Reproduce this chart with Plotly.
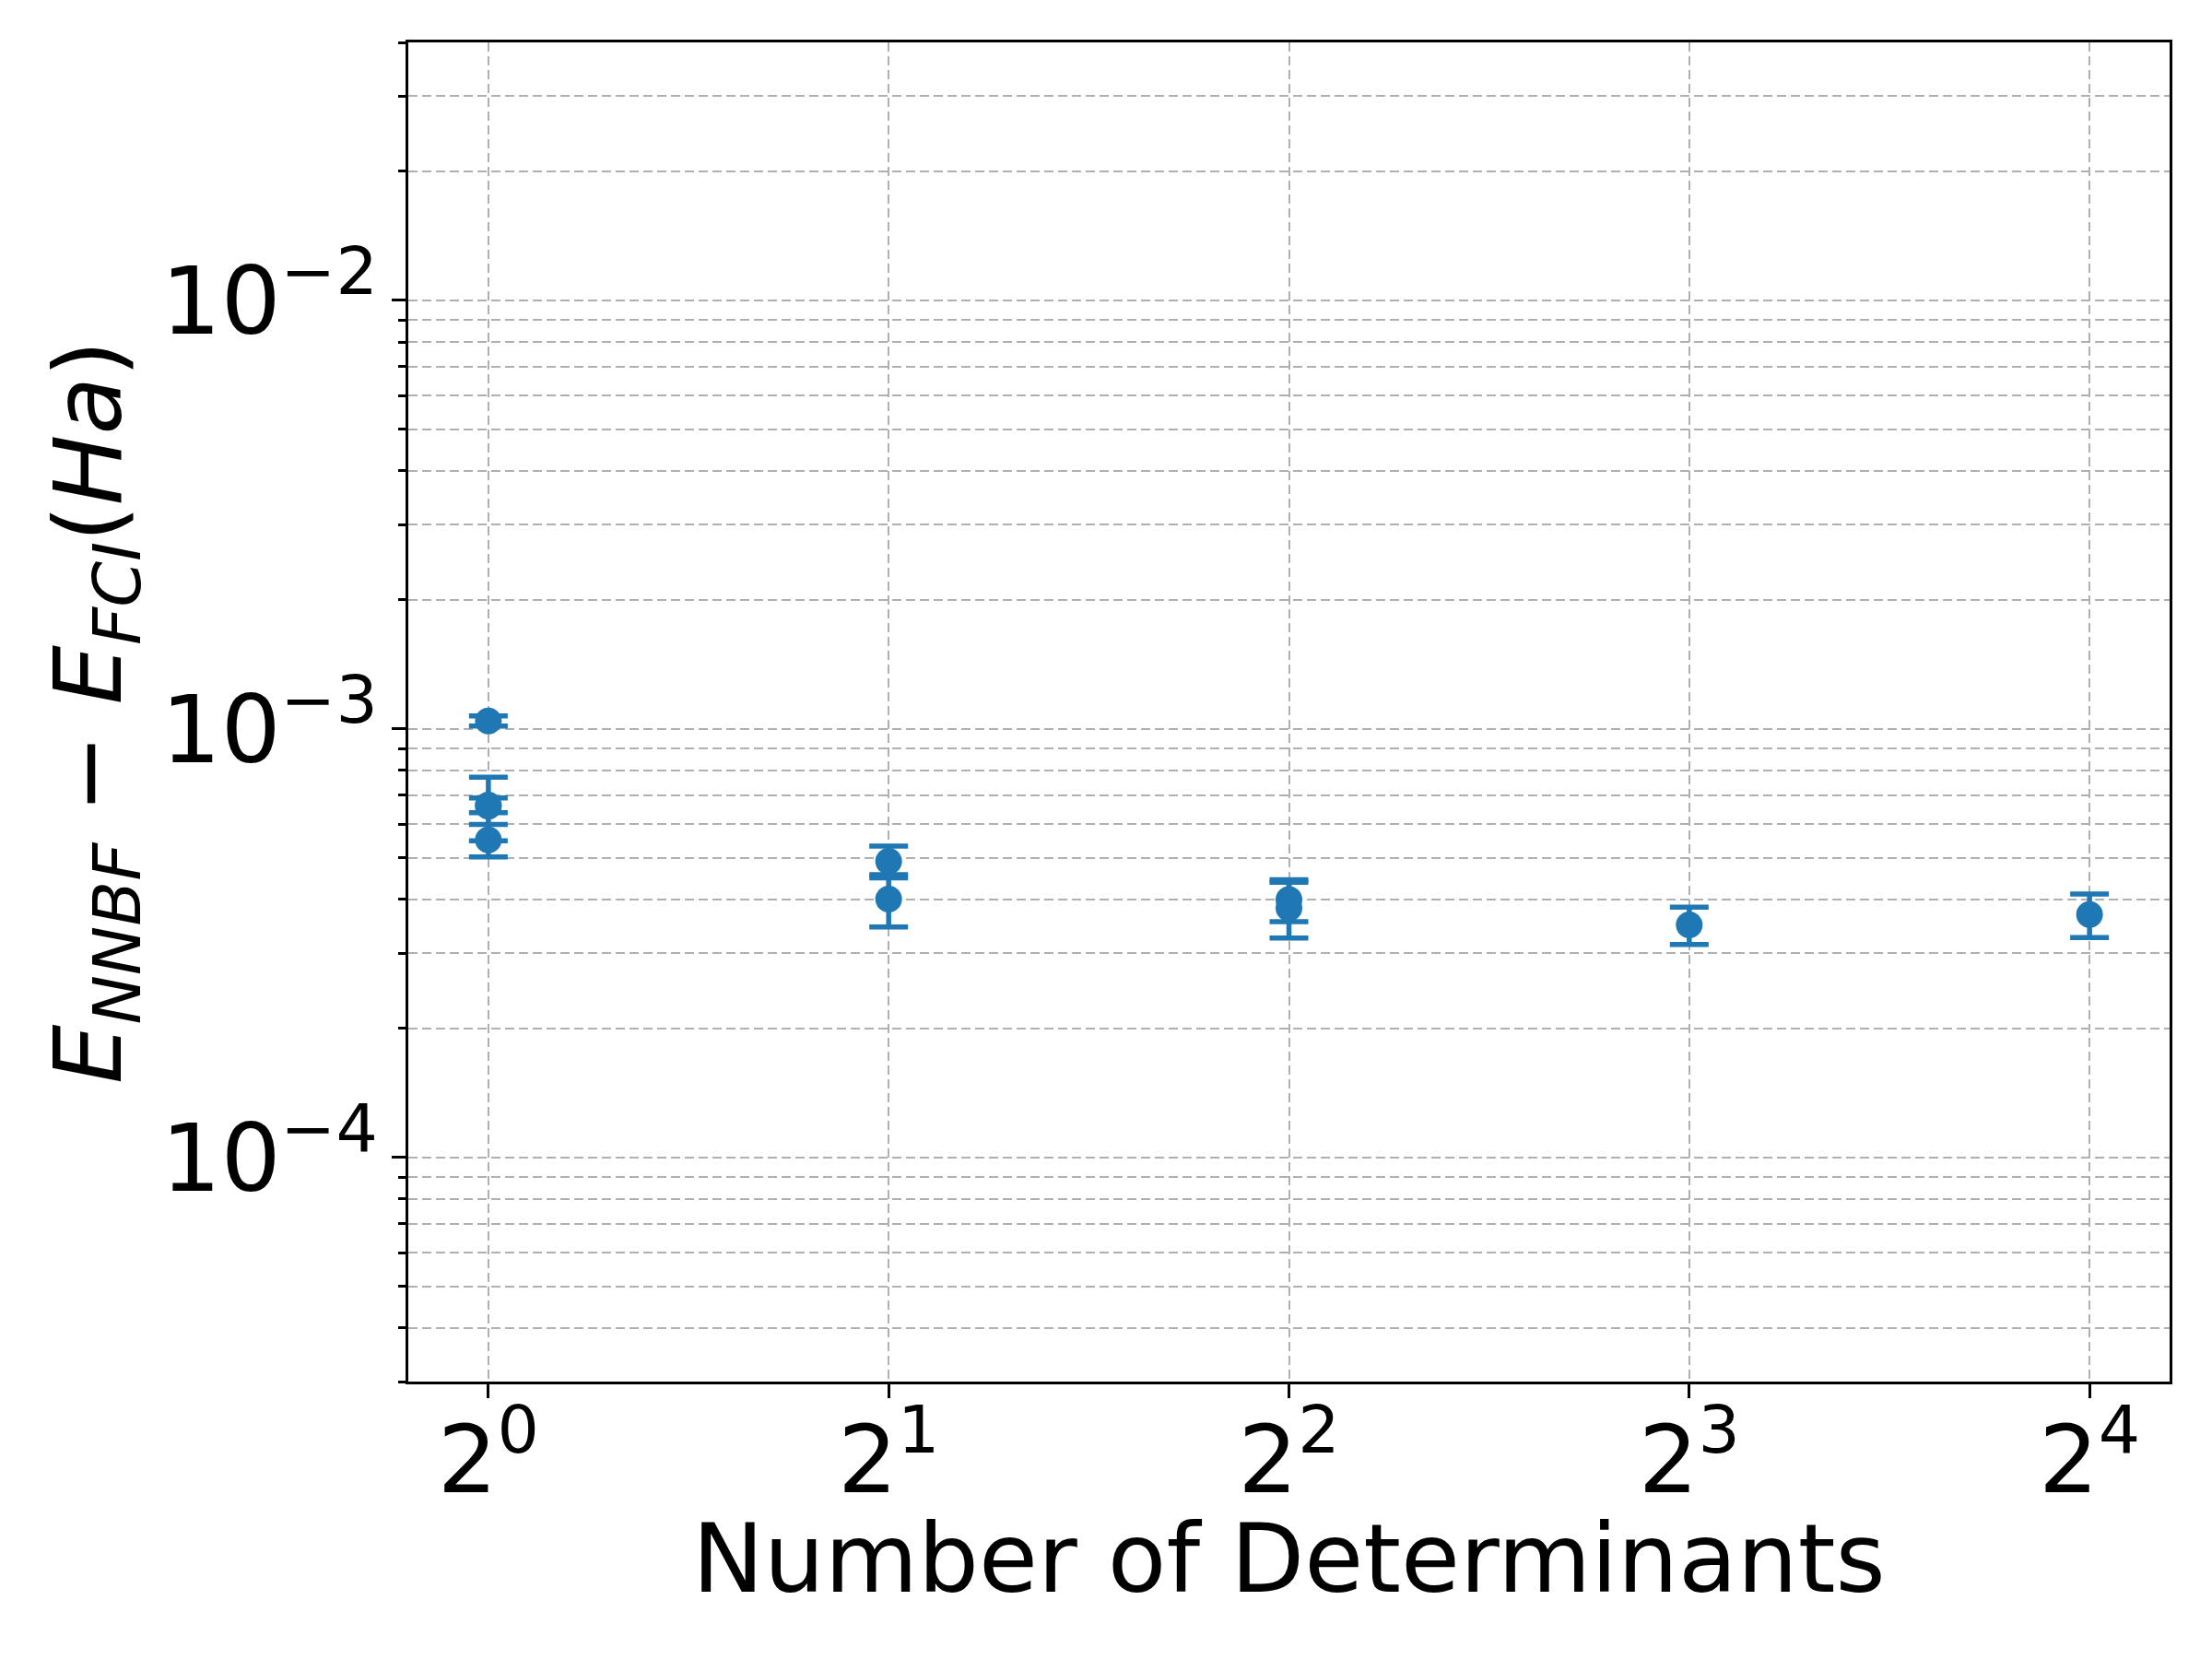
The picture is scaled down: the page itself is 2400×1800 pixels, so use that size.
import math
import plotly.graph_objects as go

# Data
n_determinants = [1, 1, 1, 1, 2, 2, 4, 4, 8, 16]
energy_error = [1.044e-3, 6.60e-4, 6.64e-4, 5.51e-4, 4.91e-4, 4.01e-4, 4.00e-4, 3.82e-4, 3.49e-4, 3.69e-4]
energy_std = [0.028e-3, 1.12e-4, 0.26e-4, 0.48e-4, 0.42e-4, 0.56e-4, 0.45e-4, 0.57e-4, 0.35e-4, 0.43e-4]

x_tickvals = [1, 2, 4, 8, 16]
x_ticktext = ["2<sup>0</sup>", "2<sup>1</sup>", "2<sup>2</sup>", "2<sup>3</sup>", "2<sup>4</sup>"]
y_tickvals = [1e-4, 1e-3, 1e-2]
y_ticktext = ["10<sup>\u22124</sup>", "10<sup>\u22123</sup>", "10<sup>\u22122</sup>"]
y_minor_vals = ([k * 1e-5 for k in range(3, 10)] + [k * 1e-4 for k in range(2, 10)]
                + [k * 1e-3 for k in range(2, 10)] + [2e-2, 3e-2, 4e-2])

x_range_exp = [-0.2, 4.2]   # in powers of 2
y_limits = [3e-5, 4e-2]

BLUE = "#1f77b4"
FONT = "DejaVu Sans"

fig = go.Figure()
fig.add_trace(go.Scatter(
    x=n_determinants, y=energy_error, mode="markers",
    marker=dict(color=BLUE, size=29, line=dict(width=0)),
    error_y=dict(type="data", array=energy_std, symmetric=True,
                 color=BLUE, thickness=5.5, width=21),
    showlegend=False,
))

W, H = 2400, 1800
L, R, T, B = 435, 54, 38, 309

axis_common = dict(
    showline=True, linecolor="black", linewidth=3.3, mirror=True,
    ticks="outside", ticklen=14.6, tickwidth=3.3, tickcolor="black",
    showgrid=True, gridcolor="#b0b0b0", gridwidth=2, griddash="10px,5px",
    zeroline=False,
    tickfont=dict(family=FONT, size=102, color="black"),
)

fig.update_xaxes(
    type="log",
    range=[x_range_exp[0] * math.log10(2), x_range_exp[1] * math.log10(2)],
    tickmode="array", tickvals=x_tickvals, ticktext=x_ticktext,
    ticklabelstandoff=-20,
    **axis_common,
)
fig.update_yaxes(
    type="log",
    range=[math.log10(y_limits[0]), math.log10(y_limits[1])],
    tickmode="array", tickvals=y_tickvals, ticktext=y_ticktext,
    ticklabelstandoff=-5,
    minor=dict(tickmode="array", tickvals=y_minor_vals, ticks="outside",
               ticklen=8.3, tickwidth=2.5, tickcolor="black",
               showgrid=True, gridcolor="#b0b0b0", gridwidth=2, griddash="10px,5px"),
    **axis_common,
)

plot_h = H - T - B
plot_w = W - L - R
def paper_y(py):
    return 1 - (py - T) / plot_h
def paper_x(px):
    return (px - L) / plot_w

fig.add_annotation(
    text="Number of Determinants", xref="paper", yref="paper",
    x=0.5, y=paper_y(1683), xanchor="center", yanchor="middle",
    showarrow=False, font=dict(family=FONT, size=104, color="black"),
)
fig.add_annotation(
    text="<i>E</i><sub><i>NNBF</i></sub> \u2212 <i>E</i><sub><i>FCI</i></sub>(<i>Ha</i>)",
    xref="paper", yref="paper",
    x=paper_x(94.5), y=0.5, xanchor="center", yanchor="middle", textangle=-90,
    showarrow=False, font=dict(family=FONT, size=102, color="black"),
)

fig.update_layout(
    width=W, height=H,
    margin=dict(l=L, r=R, t=T, b=B, autoexpand=False),
    paper_bgcolor="white", plot_bgcolor="white",
    font=dict(family=FONT, color="black"),
)

fig.write_html("out.html")
